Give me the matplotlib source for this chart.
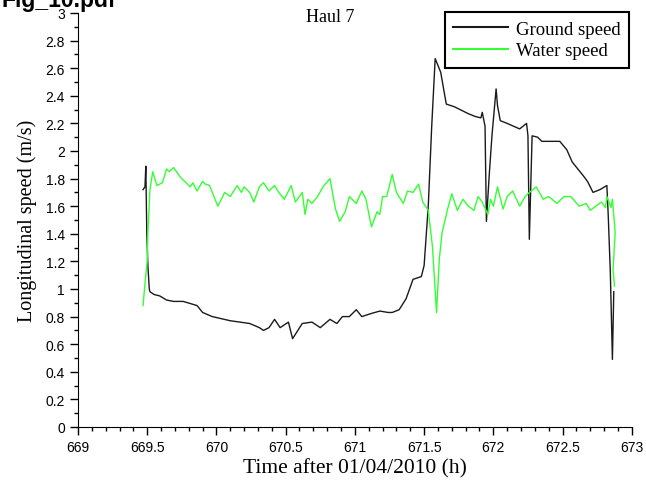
import matplotlib.pyplot as plt
from matplotlib.ticker import MultipleLocator

# === Haul 7 speed records (time in h after 01/04/2010, speed in m/s) ===
ground_t = [669.47, 669.484, 669.49, 669.497, 669.505, 669.515, 669.52, 669.55, 669.59,
            669.64, 669.69, 669.76, 669.86, 669.90, 669.97, 670.10, 670.17, 670.24,
            670.31, 670.34, 670.38, 670.42, 670.46, 670.52, 670.55, 670.62, 670.69,
            670.75, 670.82, 670.87, 670.91, 670.96, 671.01, 671.05, 671.11, 671.18,
            671.24, 671.27, 671.32, 671.37, 671.42, 671.48, 671.50, 671.53, 671.555,
            671.58, 671.62, 671.66, 671.72, 671.76, 671.82, 671.87, 671.91, 671.92,
            671.94, 671.95, 671.97, 671.99, 672.02, 672.03, 672.05, 672.10, 672.19,
            672.24, 672.25, 672.26, 672.28, 672.32, 672.35, 672.48, 672.53, 672.57,
            672.65, 672.68, 672.72, 672.77, 672.82, 672.83, 672.845, 672.86, 672.87]
ground_v = [1.72, 1.74, 1.89, 1.41, 1.17, 1.00, 0.98, 0.96, 0.95,
            0.92, 0.91, 0.91, 0.88, 0.83, 0.80, 0.77, 0.76, 0.75,
            0.72, 0.70, 0.72, 0.78, 0.72, 0.76, 0.64, 0.75, 0.76,
            0.72, 0.78, 0.75, 0.80, 0.80, 0.85, 0.80, 0.82, 0.84,
            0.83, 0.83, 0.85, 0.93, 1.07, 1.09, 1.17, 1.60, 2.18,
            2.67, 2.57, 2.34, 2.32, 2.30, 2.27, 2.25, 2.24, 2.28,
            2.18, 1.49, 1.82, 2.11, 2.45, 2.33, 2.22, 2.20, 2.16,
            2.20, 2.11, 1.36, 2.11, 2.10, 2.07, 2.07, 2.01, 1.92,
            1.82, 1.78, 1.70, 1.72, 1.75, 1.53, 1.12, 0.49, 0.98]

water_t = [669.47, 669.485, 669.50, 669.505, 669.52, 669.54, 669.57, 669.61, 669.64,
           669.66, 669.69, 669.74, 669.77, 669.81, 669.83, 669.86, 669.90, 669.92,
           669.95, 670.01, 670.06, 670.10, 670.15, 670.18, 670.20, 670.24, 670.27,
           670.31, 670.34, 670.38, 670.42, 670.45, 670.49, 670.54, 670.57, 670.62,
           670.64, 670.66, 670.69, 670.73, 670.77, 670.82, 670.86, 670.89, 670.93,
           670.96, 671.01, 671.05, 671.08, 671.12, 671.16, 671.18, 671.20, 671.23,
           671.27, 671.30, 671.35, 671.38, 671.42, 671.46, 671.49, 671.53, 671.56,
           671.59, 671.61, 671.63, 671.67, 671.70, 671.74, 671.78, 671.82, 671.86,
           671.89, 671.92, 671.96, 671.98, 672.00, 672.03, 672.07, 672.10, 672.14,
           672.19, 672.23, 672.26, 672.31, 672.36, 672.40, 672.46, 672.51, 672.56,
           672.62, 672.67, 672.70, 672.78, 672.81, 672.82, 672.85, 672.86, 672.88]
water_v = [0.88, 1.05, 1.20, 1.41, 1.72, 1.85, 1.75, 1.77, 1.87,
           1.85, 1.88, 1.81, 1.78, 1.74, 1.77, 1.71, 1.78, 1.76,
           1.75, 1.60, 1.70, 1.67, 1.75, 1.70, 1.74, 1.70, 1.63,
           1.74, 1.77, 1.71, 1.75, 1.70, 1.65, 1.75, 1.63, 1.70,
           1.54, 1.65, 1.62, 1.67, 1.74, 1.80, 1.58, 1.49, 1.56,
           1.67, 1.62, 1.71, 1.65, 1.45, 1.56, 1.54, 1.67, 1.67,
           1.83, 1.70, 1.62, 1.71, 1.70, 1.76, 1.63, 1.57, 1.31,
           0.83, 1.22, 1.41, 1.58, 1.69, 1.57, 1.65, 1.60, 1.57,
           1.67, 1.63, 1.54, 1.65, 1.60, 1.74, 1.58, 1.67, 1.71,
           1.60, 1.67, 1.70, 1.74, 1.65, 1.67, 1.62, 1.67, 1.67,
           1.60, 1.62, 1.57, 1.63, 1.59, 1.67, 1.59, 1.65, 1.41]
water_t += [672.865, 672.875]
water_v += [1.14, 1.02]

serif = ['Liberation Serif', 'DejaVu Serif']
sans = ['Liberation Sans Narrow', 'Liberation Sans', 'DejaVu Sans']

fig = plt.figure(figsize=(6.46, 4.81), dpi=100)
ax = fig.add_axes([0.1207, 0.1102, 0.8573, 0.8607])

ax.plot(ground_t, ground_v, color='#1a1a1a', lw=1.0, label='Ground speed')
ax.plot(water_t, water_v, color='#33ff33', lw=1.0, label='Water speed')

ax.set_xlim(669, 673)
ax.set_ylim(0, 3)
ax.xaxis.set_major_locator(MultipleLocator(0.5))
ax.xaxis.set_minor_locator(MultipleLocator(0.1))
ax.yaxis.set_major_locator(MultipleLocator(0.2))
ax.yaxis.set_minor_locator(MultipleLocator(0.1))
ax.set_xticklabels([f'{v:g}' for v in ax.get_xticks()], family=sans, fontsize=10)
ax.set_yticklabels([f'{v:g}' for v in ax.get_yticks()], family=sans, fontsize=10)
ax.tick_params(which='major', length=6, width=1, direction='out')
ax.tick_params(which='minor', length=3, width=1, direction='out')
for s in ['top', 'right']:
    ax.spines[s].set_visible(False)

# title sits inside the plot area, left of the legend
fig.text(330 / 646, 1 - 17 / 481, 'Haul 7', family=serif, fontsize=13,
         ha='center', va='center')
ax.set_xlabel('Time after 01/04/2010 (h)', family=serif, fontsize=15.5, labelpad=3)
ax.set_ylabel('Longitudinal speed (m/s)', family=serif, fontsize=14.5, labelpad=6)

leg = ax.legend(loc='upper right', bbox_to_anchor=(629 / 646, 1 - 13 / 481),
                bbox_transform=fig.transFigure, prop={'family': serif, 'size': 13.5},
                fancybox=False, framealpha=1, edgecolor='black',
                borderaxespad=0, handlelength=2.9, labelspacing=0.25,
                borderpad=0.45, handletextpad=0.45)
leg.get_frame().set_linewidth(1.5)
for line in leg.get_lines():
    line.set_linewidth(1.5)

fig.text(0.002, 1 - 7 / 481, 'Fig_10.pdf', family=sans[1:], fontsize=16.5,
         fontweight='bold', va='baseline')

fig.savefig('out.png', dpi=100)
